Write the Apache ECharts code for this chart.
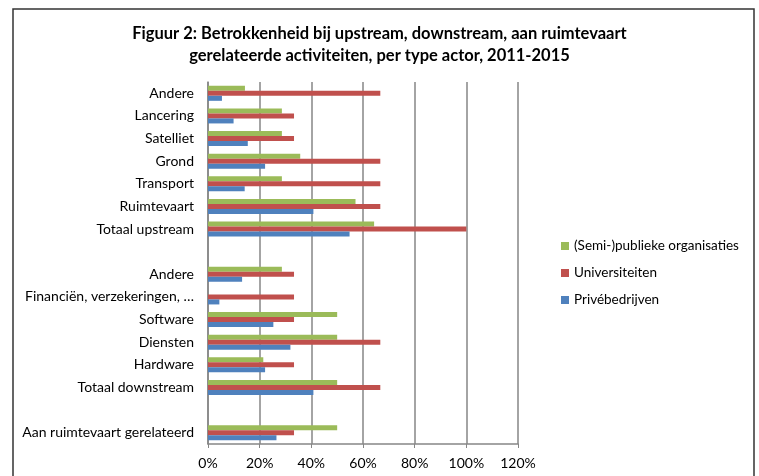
<!DOCTYPE html>
<html>
<head>
<meta charset="utf-8">
<script src="https://cdn.jsdelivr.net/npm/echarts@6/dist/echarts.min.js"></script>
<style>
  html, body { margin: 0; padding: 0; background: #fff; }
  #chart { width: 759px; height: 476px; }
</style>
</head>
<body>
<div id="chart"></div>
<script>
// categorieën van boven naar beneden, lege regels als scheiding
const categories = [
  'Andere', 'Lancering', 'Satelliet', 'Grond', 'Transport', 'Ruimtevaart', 'Totaal upstream',
  ' ',
  'Andere', 'Financiën, verzekeringen, …', 'Software', 'Diensten', 'Hardware', 'Totaal downstream',
  '  ',
  'Aan ruimtevaart gerelateerd'
]
// percentages per type actor
const publiek = [14.3, 28.6, 28.6, 35.7, 28.6, 57.1, 64.3, null, 28.6, 0, 50, 50, 21.4, 50, null, 50]
const universiteiten = [66.7, 33.3, 33.3, 66.7, 66.7, 66.7, 100, null, 33.3, 33.3, 33.3, 66.7, 33.3, 66.7, null, 33.3]
const prive = [5.4, 9.9, 15.4, 22.1, 14.2, 40.8, 54.8, null, 13.2, 4.4, 25.3, 31.9, 22.1, 40.8, null, 26.5]

const font = 'Lato, "Open Sans", sans-serif'
const chart = echarts.init(document.getElementById('chart'))

chart.setOption({
  animation: false,
  textStyle: { fontFamily: font },
  title: {
    text: 'Figuur 2: Betrokkenheid bij upstream, downstream, aan ruimtevaart\ngerelateerde activiteiten, per type actor, 2011-2015',
    left: 'center',
    top: 18,
    padding: [5, 5, 5, 17],
    textStyle: { fontFamily: font, fontSize: 16.5, fontWeight: 'bold', color: '#000', lineHeight: 22 }
  },
  graphic: [{
    type: 'rect',
    shape: { x: 13, y: 9, width: 741, height: 500 },
    style: { fill: 'none', stroke: '#333', lineWidth: 1.5 },
    silent: true
  }],
  legend: {
    orient: 'vertical',
    left: 556,
    top: 234,
    itemWidth: 8,
    itemHeight: 8,
    itemGap: 13,
    icon: 'rect',
    textStyle: { fontFamily: font, fontSize: 13.5, color: '#000' },
    data: ['(Semi-)publieke organisaties', 'Universiteiten', 'Privébedrijven']
  },
  grid: { left: 208, top: 82, width: 310, height: 362 },
  xAxis: {
    type: 'value',
    min: 0,
    max: 120,
    interval: 20,
    axisLine: { show: true, lineStyle: { color: '#868686', width: 1.5 } },
    axisTick: { show: true, length: 4, lineStyle: { color: '#868686' } },
    splitLine: { lineStyle: { color: '#868686', width: 1.5 } },
    axisLabel: { formatter: '{value}%', fontSize: 14, color: '#000', margin: 12 }
  },
  yAxis: {
    type: 'category',
    inverse: true,
    data: categories,
    axisLine: { show: true, lineStyle: { color: '#868686', width: 1.5 } },
    axisTick: { show: false },
    axisLabel: { fontSize: 14, color: '#000', margin: 14 }
  },
  series: [
    { name: '(Semi-)publieke organisaties', type: 'bar', data: publiek, barWidth: 5, barGap: '0%',
      itemStyle: { color: '#9BBB59' } },
    { name: 'Universiteiten', type: 'bar', data: universiteiten, barWidth: 5, barGap: '0%',
      itemStyle: { color: '#C0504D' } },
    { name: 'Privébedrijven', type: 'bar', data: prive, barWidth: 5, barGap: '0%',
      itemStyle: { color: '#4F81BD' } }
  ]
})
</script>
</body>
</html>
